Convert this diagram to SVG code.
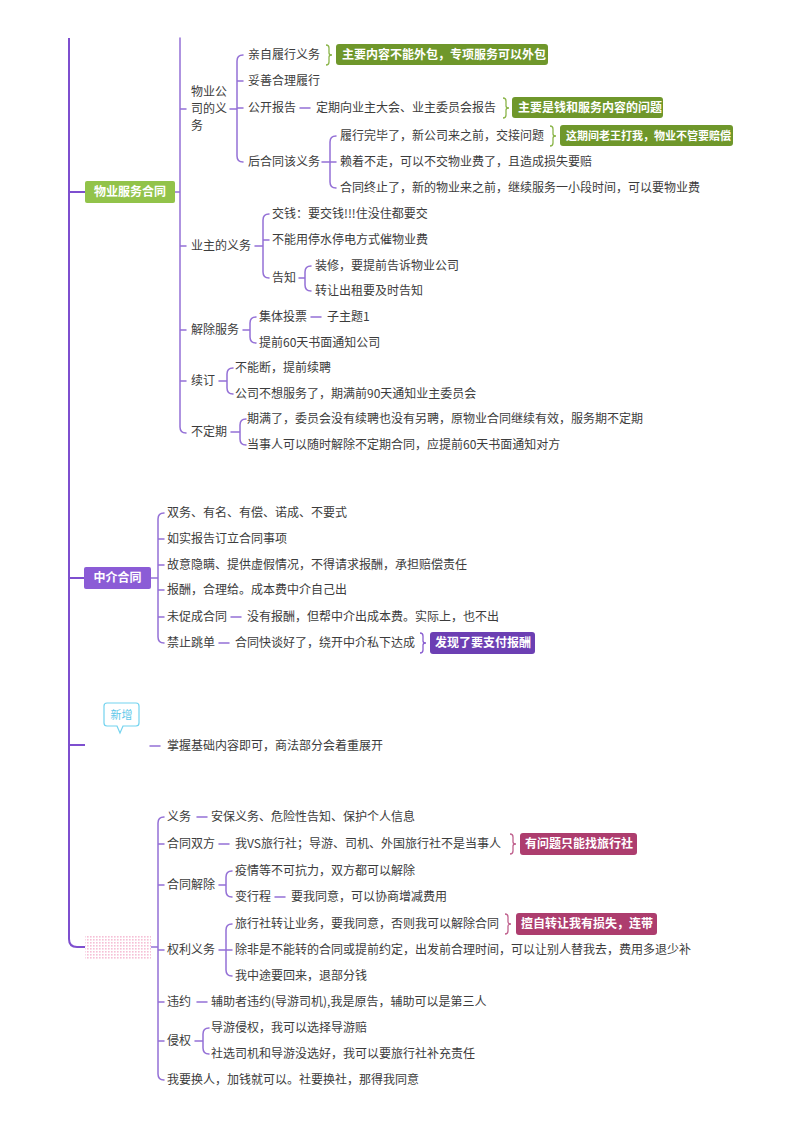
<svg xmlns="http://www.w3.org/2000/svg" width="800" height="1132" viewBox="0 0 800 1132">
<style>
text{font-family:"Noto Sans CJK SC","Noto Sans",sans-serif;font-size:12px;fill:#3c3c3c}
.nt{fill:#fff;font-weight:bold;font-size:12px}
.lt{fill:#fff;font-weight:bold;font-size:12px}
.main{fill:none;stroke:#7e4fcf;stroke-width:2}
.ln{fill:none;stroke:#9470d6;stroke-width:1.5;stroke-linecap:round}
.br{fill:none;stroke-width:1.3}
</style>
<defs>
<pattern id="dots" width="3" height="3" patternUnits="userSpaceOnUse">
<rect width="3" height="3" fill="#fff"/>
<rect width="1.6" height="1.6" fill="#f6bfd6"/>
</pattern>
</defs>
<rect width="800" height="1132" fill="#fff"/>

<g id="connectors">
<!-- main trunk -->
<path class="main" d="M69,38 V939 Q69,947 77,947 H85"/>
<path class="main" d="M69,192 H85 M69,578 H84 M69,745 H85"/>
<!-- 物业服务合同 children -->
<path class="ln" d="M175,192 H180 M180,38 V427 Q180,433 186,433 M180,109 H186 M180,246 H186 M180,330 H186 M180,381 H186"/>
<!-- 物业公司的义务 -->
<path class="ln" d="M230,109 H237 M243,55 Q237,55 237,61 V156 Q237,162 243,162 M237,81 H243 M237,108 H243"/>
<path class="ln" d="M300,108 H310"/>
<path class="ln" d="M322,162 H330 M336,136 Q330,136 330,142 V182 Q330,188 336,188 M330,162 H336"/>
<!-- 业主的义务 -->
<path class="ln" d="M255,246 H263 M269,214 Q263,214 263,220 V272 Q263,278 269,278 M263,240 H269"/>
<path class="ln" d="M299,278 H305 M311,266 Q305,266 305,272 V285 Q305,291 311,291"/>
<!-- 解除服务 -->
<path class="ln" d="M243,330 H250 M256,317 Q250,317 250,323 V337 Q250,343 256,343"/>
<path class="ln" d="M311,317 H321"/>
<!-- 续订 -->
<path class="ln" d="M219,381 H227 M233,368 Q227,368 227,374 V388 Q227,394 233,394"/>
<!-- 不定期 -->
<path class="ln" d="M231,432 H240 M246,419 Q240,419 240,425 V439 Q240,445 246,445"/>
<!-- 中介合同 -->
<path class="ln" d="M151,578 H158 M164,513 Q158,513 158,519 V637 Q158,643 164,643 M158,539 H164 M158,565 H164 M158,590 H164 M158,617 H164"/>
<path class="ln" d="M231,617 H241 M219,643 H229"/>
<!-- 新增 branch -->
<path class="ln" d="M150,746 H160"/>
<!-- pink branch -->
<path class="ln" d="M151,947 H158 M164,817 Q158,817 158,823 V1074 Q158,1080 164,1080 M158,844 H164 M158,885 H164 M158,950 H164 M158,1002 H164 M158,1041 H164"/>
<path class="ln" d="M197,817 H207 M219,844 H229 M197,1002 H207"/>
<path class="ln" d="M219,885 H226 M232,871 Q226,871 226,877 V891 Q226,897 232,897"/>
<path class="ln" d="M275,897 H285"/>
<path class="ln" d="M219,950 H226 M232,924 Q226,924 226,930 V970 Q226,976 232,976 M226,950 H232"/>
<path class="ln" d="M195,1041 H203 M209,1028 Q203,1028 203,1034 V1048 Q203,1054 209,1054"/>
<!-- braces -->
<path class="br" stroke="#8bb54a" d="M326,45 q3,0 3,3 v5 q0,2 3,2 q-3,0 -3,2 v5 q0,3 -3,3"/>
<path class="br" stroke="#8bb54a" d="M503,98 q3,0 3,3 v5 q0,2 3,2 q-3,0 -3,2 v5 q0,3 -3,3"/>
<path class="br" stroke="#8bb54a" d="M550,126 q3,0 3,3 v5 q0,2 3,2 q-3,0 -3,2 v5 q0,3 -3,3"/>
<path class="br" stroke="#8a5fd0" d="M420,633 q3,0 3,3 v5 q0,2 3,2 q-3,0 -3,2 v5 q0,3 -3,3"/>
<path class="br" stroke="#c0628e" d="M510,834 q3,0 3,3 v5 q0,2 3,2 q-3,0 -3,2 v5 q0,3 -3,3"/>
<path class="br" stroke="#c0628e" d="M505,914 q3,0 3,3 v5 q0,2 3,2 q-3,0 -3,2 v5 q0,3 -3,3"/>
</g>

<g id="n-wuye">
<rect x="85" y="181" width="90" height="22" rx="2" fill="#92c34a"/>
<text class="nt" x="130" y="196" text-anchor="middle">物业服务合同</text>
</g>
<g id="n-wuye-gs">
<text x="191" y="96">物业公</text><text x="191" y="113">司的义</text><text x="191" y="130">务</text>
</g>
<g id="n-qinzi"><text x="248" y="59">亲自履行义务</text></g>
<g id="l-qinzi"><rect x="336" y="44" width="212" height="21" rx="3" fill="#6f972b"/><text class="lt" x="342" y="59">主要内容不能外包，专项服务可以外包</text></g>
<g id="n-tuoshan"><text x="248" y="85">妥善合理履行</text></g>
<g id="n-gongkai"><text x="248" y="112">公开报告</text><text x="316" y="112">定期向业主大会、业主委员会报告</text></g>
<g id="l-gongkai"><rect x="512" y="97" width="151" height="21" rx="3" fill="#6f972b"/><text class="lt" x="518" y="112">主要是钱和服务内容的问题</text></g>
<g id="n-houhetong"><text x="248" y="166">后合同该义务</text></g>
<g id="n-lvxing"><text x="340" y="140">履行完毕了，新公司来之前，交接问题</text></g>
<g id="l-lvxing"><rect x="560" y="125" width="173" height="21" rx="3" fill="#6f972b"/><text class="lt" x="566" y="140" style="font-size:11px">这期间老王打我，物业不管要赔偿</text></g>
<g id="n-laizhe"><text x="340" y="166">赖着不走，可以不交物业费了，且造成损失要赔</text></g>
<g id="n-zhongzhi"><text x="340" y="192">合同终止了，新的物业来之前，继续服务一小段时间，可以要物业费</text></g>

<g id="n-yezhu"><text x="191" y="250">业主的义务</text></g>
<g id="n-jiaoqian"><text x="272" y="218">交钱：要交钱!!!住没住都要交</text></g>
<g id="n-buneng"><text x="272" y="244">不能用停水停电方式催物业费</text></g>
<g id="n-gaozhi"><text x="272" y="282">告知</text></g>
<g id="n-zhuangxiu"><text x="315" y="270">装修，要提前告诉物业公司</text></g>
<g id="n-zhuanrang"><text x="315" y="295">转让出租要及时告知</text></g>

<g id="n-jiechu"><text x="191" y="334">解除服务</text></g>
<g id="n-jiti"><text x="259" y="321">集体投票</text><text x="327" y="321">子主题1</text></g>
<g id="n-tiqian60"><text x="259" y="347">提前60天书面通知公司</text></g>

<g id="n-xuding"><text x="191" y="385">续订</text></g>
<g id="n-buduan"><text x="235" y="372">不能断，提前续聘</text></g>
<g id="n-bu90"><text x="235" y="398">公司不想服务了，期满前90天通知业主委员会</text></g>

<g id="n-budingqi"><text x="191" y="436">不定期</text></g>
<g id="n-qiman"><text x="247" y="423">期满了，委员会没有续聘也没有另聘，原物业合同继续有效，服务期不定期</text></g>
<g id="n-dangshi"><text x="247" y="449">当事人可以随时解除不定期合同，应提前60天书面通知对方</text></g>

<g id="n-zhongjie">
<rect x="84" y="567" width="67" height="22" rx="2" fill="#8b5cd6"/>
<text class="nt" x="117.5" y="582" text-anchor="middle">中介合同</text>
</g>
<g id="n-zj1"><text x="167" y="517">双务、有名、有偿、诺成、不要式</text></g>
<g id="n-zj2"><text x="167" y="543">如实报告订立合同事项</text></g>
<g id="n-zj3"><text x="167" y="569">故意隐瞒、提供虚假情况，不得请求报酬，承担赔偿责任</text></g>
<g id="n-zj4"><text x="167" y="594">报酬，合理给。成本费中介自己出</text></g>
<g id="n-zj5"><text x="167" y="621">未促成合同</text><text x="247" y="621">没有报酬，但帮中介出成本费。实际上，也不出</text></g>
<g id="n-zj6"><text x="167" y="647">禁止跳单</text><text x="235" y="647">合同快谈好了，绕开中介私下达成</text></g>
<g id="l-zj6"><rect x="430" y="632" width="105" height="22" rx="3" fill="#6c3fb3"/><text class="lt" x="435" y="647">发现了要支付报酬</text></g>

<g id="n-xinzeng">
<path d="M107,703 H136 Q139,703 139,706 V723 Q139,726 136,726 H123 L120,733 L117,726 H107 Q104,726 104,723 V706 Q104,703 107,703 Z" fill="#fff" stroke="#73d3ef" stroke-width="1.2"/>
<text x="121.5" y="719" text-anchor="middle" style="fill:#5ec8ea;font-size:11px">新增</text>
</g>
<g id="n-zhangwo"><text x="167" y="750">掌握基础内容即可，商法部分会着重展开</text></g>

<g id="n-pink">
<rect x="85" y="936" width="66" height="23" fill="url(#dots)"/>
</g>
<g id="n-yiwu"><text x="167" y="821">义务</text><text x="211" y="821">安保义务、危险性告知、保护个人信息</text></g>
<g id="n-shuangfang"><text x="167" y="848">合同双方</text><text x="235" y="848">我VS旅行社；导游、司机、外国旅行社不是当事人</text></g>
<g id="l-shuangfang"><rect x="520" y="833" width="117" height="22" rx="3" fill="#ad3d6e"/><text class="lt" x="525" y="848">有问题只能找旅行社</text></g>
<g id="n-htjc"><text x="167" y="889">合同解除</text></g>
<g id="n-yiqing"><text x="235" y="875">疫情等不可抗力，双方都可以解除</text></g>
<g id="n-bianxing"><text x="235" y="901">变行程</text><text x="291" y="901">要我同意，可以协商增减费用</text></g>
<g id="n-quanli"><text x="167" y="954">权利义务</text></g>
<g id="n-ql1"><text x="235" y="928">旅行社转让业务，要我同意，否则我可以解除合同</text></g>
<g id="l-ql1"><rect x="516" y="913" width="141" height="22" rx="3" fill="#ad3d6e"/><text class="lt" x="521" y="928">擅自转让我有损失，连带</text></g>
<g id="n-ql2"><text x="235" y="954">除非是不能转的合同或提前约定，出发前合理时间，可以让别人替我去，费用多退少补</text></g>
<g id="n-ql3"><text x="235" y="980">我中途要回来，退部分钱</text></g>
<g id="n-weiyue"><text x="167" y="1006">违约</text><text x="211" y="1006">辅助者违约(导游司机),我是原告，辅助可以是第三人</text></g>
<g id="n-qinquan"><text x="167" y="1045">侵权</text></g>
<g id="n-qq1"><text x="211" y="1032">导游侵权，我可以选择导游赔</text></g>
<g id="n-qq2"><text x="211" y="1058">社选司机和导游没选好，我可以要旅行社补充责任</text></g>
<g id="n-huanren"><text x="167" y="1084">我要换人，加钱就可以。社要换社，那得我同意</text></g>
</svg>
